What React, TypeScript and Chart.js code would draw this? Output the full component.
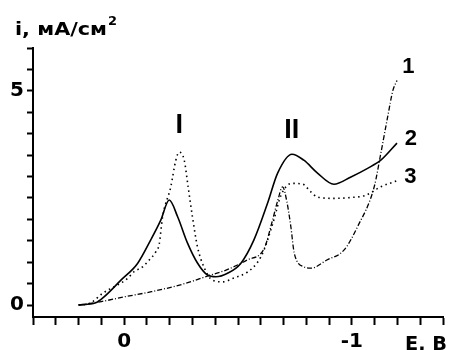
import React, { useEffect, useRef } from 'react';
import { Chart, registerables } from 'chart.js';

Chart.register(...registerables);

// Potential E (V) and current density i (mA/cm^2) for each curve
const curve1E = [0.2, 0.1, 0.0, -0.12, -0.26, -0.38, -0.45, -0.54, -0.615, -0.65, -0.675, -0.696, -0.715, -0.732, -0.747, -0.79, -0.82, -0.89, -0.965, -1.025, -1.098, -1.127, -1.157, -1.18, -1.198];
const curve1I = [0, 0.08, 0.19, 0.31, 0.49, 0.7, 0.82, 1.05, 1.32, 1.95, 2.45, 2.76, 2.4, 1.83, 1.21, 0.89, 0.86, 1.05, 1.28, 1.83, 2.76, 3.54, 4.39, 5.01, 5.24];

const curve2E = [0.2, 0.125, 0.088, 0.014, -0.059, -0.117, -0.161, -0.198, -0.235, -0.278, -0.322, -0.366, -0.403, -0.454, -0.512, -0.57, -0.63, -0.674, -0.737, -0.789, -0.849, -0.921, -0.996, -1.069, -1.127, -1.198];
const curve2I = [0, 0.05, 0.19, 0.58, 0.97, 1.52, 1.98, 2.45, 2.06, 1.45, 0.98, 0.7, 0.66, 0.74, 0.97, 1.52, 2.38, 3.08, 3.52, 3.38, 3.08, 2.82, 2.99, 3.19, 3.38, 3.78];

const curve3E = [0.2, 0.15, 0.095, -0.015, -0.044, -0.081, -0.11, -0.139, -0.154, -0.169, -0.205, -0.227, -0.242, -0.264, -0.281, -0.3, -0.322, -0.35, -0.388, -0.433, -0.482, -0.542, -0.586, -0.614, -0.657, -0.688, -0.736, -0.784, -0.82, -0.849, -0.921, -0.996, -1.06, -1.127, -1.198];
const curve3I = [0, 0.04, 0.27, 0.62, 0.78, 0.89, 1.05, 1.24, 1.42, 2.06, 2.76, 3.38, 3.57, 3.38, 2.76, 2.06, 1.36, 0.89, 0.58, 0.54, 0.63, 0.77, 1.0, 1.28, 1.98, 2.55, 2.84, 2.82, 2.64, 2.52, 2.49, 2.51, 2.56, 2.76, 2.9];

const xTickLabels: Record<string, string> = { '0': '0', '-1': '-1' };
const yTickLabels: Record<string, string> = { '0': '0', '5': '5' };

const curveLabels = [
  { text: 'I', e: -0.242, i: 4.01, size: 27 },
  { text: 'II', e: -0.736, i: 3.89, size: 27 },
  { text: '1', e: -1.248, i: 5.41, size: 22 },
  { text: '2', e: -1.259, i: 3.73, size: 22 },
  { text: '3', e: -1.257, i: 2.84, size: 22 },
];

const yTitle = 'i, мА/см';
const yTitleSup = '2';
const xTitle = 'E, В';

const FONT = '"DejaVu Sans", "Liberation Sans", Arial, sans-serif';
const LABEL_FONT = '"Liberation Sans", Arial, sans-serif';

function drawStretched(ctx: CanvasRenderingContext2D, text: string, left: number, baseline: number, width: number, font: string) {
  ctx.save();
  ctx.font = font;
  ctx.textAlign = 'left';
  ctx.textBaseline = 'alphabetic';
  const w = ctx.measureText(text).width;
  ctx.translate(left, baseline);
  ctx.scale(width / w, 1);
  ctx.fillText(text, 0, 0);
  ctx.restore();
}

const textPlugin = {
  id: 'textPlugin',
  afterDraw(chart: any) {
    const ctx: CanvasRenderingContext2D = chart.ctx;
    const xs = chart.scales.x;
    const ys = chart.scales.y;
    ctx.save();
    ctx.fillStyle = '#000';
    ctx.textAlign = 'center';
    ctx.textBaseline = 'alphabetic';
    for (const l of curveLabels) {
      ctx.font = `bold ${l.size}px ${LABEL_FONT}`;
      ctx.fillText(l.text, xs.getPixelForValue(l.e), ys.getPixelForValue(l.i));
    }
    drawStretched(ctx, yTitle, 15, 35, 92, `bold 18px ${FONT}`);
    drawStretched(ctx, yTitleSup, 108, 25, 9, `bold 13px ${FONT}`);
    drawStretched(ctx, xTitle, 405, 350, 42, `bold 20px ${FONT}`);
    ctx.restore();
  },
};

const toPoints = (xs: number[], ys: number[]) => xs.map((x, k) => ({ x, y: ys[k] }));

export default function App() {
  const ref = useRef<HTMLCanvasElement>(null);
  useEffect(() => {
    if (!ref.current) return;
    const common = {
      borderColor: '#000',
      pointRadius: 0,
      fill: false,
      cubicInterpolationMode: 'monotone' as const,
    };
    const chart = new Chart(ref.current, {
      type: 'line',
      data: {
        datasets: [
          { ...common, label: '1', data: toPoints(curve1E, curve1I), borderWidth: 1.3, borderDash: [5, 2, 1, 2] },
          { ...common, label: '2', data: toPoints(curve2E, curve2I), borderWidth: 1.6 },
          { ...common, label: '3', data: toPoints(curve3E, curve3I), borderWidth: 1.6, borderDash: [1.5, 3.5] },
        ],
      },
      options: {
        animation: false,
        responsive: false,
        devicePixelRatio: 1,
        layout: { padding: { top: 48, right: 6, left: 0, bottom: 0 } },
        plugins: { legend: { display: false }, tooltip: { enabled: false } },
        scales: {
          x: {
            type: 'linear',
            reverse: true,
            min: -1.4,
            max: 0.4,
            afterFit: (s: any) => { s.height = 33; },
            grid: { drawOnChartArea: false, drawTicks: true, tickLength: 8, tickWidth: 2, color: '#000' },
            border: { display: true, color: '#000', width: 2 },
            ticks: {
              stepSize: 0.1,
              autoSkip: false,
              maxRotation: 0,
              includeBounds: false,
              padding: 5,
              color: '#000',
              font: { family: FONT, size: 20, weight: 'bold' },
              callback: (v: any) => {
                const key = String(Math.round(Number(v) * 10) / 10);
                return xTickLabels[key] ?? '';
              },
            },
          },
          y: {
            type: 'linear',
            min: -0.28,
            max: 6,
            afterFit: (s: any) => { s.width = 33; },
            grid: { drawOnChartArea: false, drawTicks: true, tickLength: 6, tickWidth: 2, color: '#000' },
            border: { display: true, color: '#000', width: 2 },
            ticks: {
              stepSize: 0.5,
              autoSkip: false,
              includeBounds: false,
              padding: 3,
              color: '#000',
              font: { family: FONT, size: 20, weight: 'bold' },
              callback: (v: any) => {
                const key = String(Math.round(Number(v) * 10) / 10);
                return yTickLabels[key] ?? '';
              },
            },
          },
        },
      },
      plugins: [textPlugin],
    });
    return () => chart.destroy();
  }, []);
  return (
    <canvas
      ref={ref}
      width={449}
      height={350}
      style={{ position: 'absolute', left: 0, top: 0, width: 449, height: 350, background: '#fff' }}
    />
  );
}
